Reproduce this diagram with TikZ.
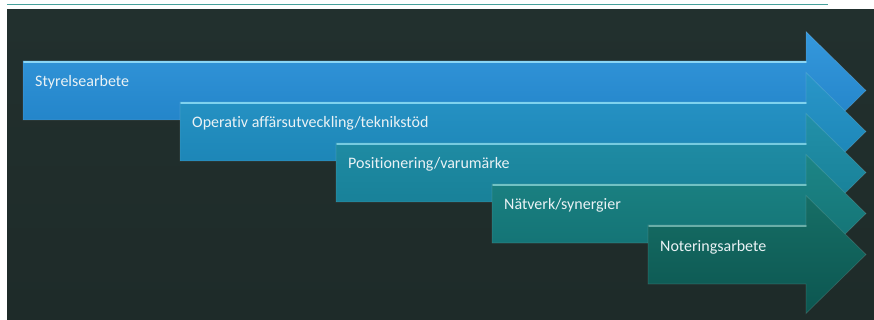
\documentclass[tikz,border=0pt]{standalone}
\usepackage{fontspec}
\setmainfont{Carlito}[Ligatures=NoCommon]
\usetikzlibrary{calc,positioning}
\definecolor{stBack}{HTML}{22302E}
\definecolor{stBackLow}{HTML}{1E2B29}
\definecolor{stRule}{HTML}{45A09B}
\definecolor{stText}{HTML}{EAF2F5}
\definecolor{stOneTop}{HTML}{3598DC}
\definecolor{stOneLow}{HTML}{1E7FC4}
\definecolor{stOneHi}{HTML}{8AD6F5}
\definecolor{stTwoTop}{HTML}{2996C8}
\definecolor{stTwoLow}{HTML}{1981B2}
\definecolor{stTwoHi}{HTML}{7FD2EE}
\definecolor{stThreeTop}{HTML}{2290A8}
\definecolor{stThreeLow}{HTML}{157C94}
\definecolor{stThreeHi}{HTML}{76CBE0}
\definecolor{stFourTop}{HTML}{1D8586}
\definecolor{stFourLow}{HTML}{116F71}
\definecolor{stFourHi}{HTML}{72C2C4}
\definecolor{stFiveTop}{HTML}{166E66}
\definecolor{stFiveLow}{HTML}{0C5650}
\definecolor{stFiveHi}{HTML}{6AAEA8}
\tikzset{
  st canvas/.style={fill=stBack},
  st rule/.style={draw=stRule, line width=1.5pt},
  st arrow/.style={draw=white, draw opacity=.12, line width=.8pt, line join=miter},
  st highlight/.style={line width=1.8pt, line cap=round},
  st label/.style={font=\fontsize{16}{19}\selectfont, text=stText, inner sep=0pt, anchor=base west}
}

\begin{document}
\begin{tikzpicture}[x=1pt,y=-1pt]
  \useasboundingbox (0,0) rectangle (874,320);
  \path[fill=white] (0,0) rectangle (874,320);
  \path[top color=stBack, bottom color=stBackLow] (7,10) rectangle (874,320);
  \draw[st rule] (7,4.5) -- (828,4.5);

  % arrow corners: left end, top of the body
  \coordinate (s1) at (23,61);
  \coordinate (s2) at (180,102);
  \coordinate (s3) at (336,143);
  \coordinate (s4) at (492,184);
  \coordinate (s5) at (648,225);

  % Styrelsearbete
  \path[st arrow, top color=stOneTop, bottom color=stOneLow]
    (s1) -- (806,61) -- (806,31.5) -- (866,90.5) -- (806,149.5) -- (806,120) -- (23,120) -- cycle;
  \draw[st highlight, stOneHi] (24,62) -- (806,62);
  \node[st label] (board) at ($(s1)+(12,26)$) {Styrelsearbete};

  % Operativ
  \path[st arrow, top color=stTwoTop, bottom color=stTwoLow]
    (s2) -- (806,102) -- (806,72.5) -- (866,131.5) -- (806,190.5) -- (806,161) -- (180,161) -- cycle;
  \draw[st highlight, stTwoHi] (181,103) -- (806,103);
  \node[st label] (operative) at ($(s2)+(12,26)$) {Operativ affärsutveckling/teknikstöd};

  % Positionering
  \path[st arrow, top color=stThreeTop, bottom color=stThreeLow]
    (s3) -- (806,143) -- (806,113.5) -- (866,172.5) -- (806,231.5) -- (806,202) -- (336,202) -- cycle;
  \draw[st highlight, stThreeHi] (337,144) -- (806,144);
  \node[st label] (brand) at ($(s3)+(12,26)$) {Positionering/varumärke};

  % Nätverk
  \path[st arrow, top color=stFourTop, bottom color=stFourLow]
    (s4) -- (806,184) -- (806,154.5) -- (866,213.5) -- (806,272.5) -- (806,243) -- (492,243) -- cycle;
  \draw[st highlight, stFourHi] (493,185) -- (806,185);
  \node[st label] (network) at ($(s4)+(12,26)$) {Nätverk/synergier};

  % Noteringsarbete
  \path[st arrow, top color=stFiveTop, bottom color=stFiveLow]
    (s5) -- (806,225) -- (806,195.5) -- (866,254.5) -- (806,313.5) -- (806,284) -- (648,284) -- cycle;
  \draw[st highlight, stFiveHi] (649,226) -- (806,226);
  \node[st label] (listing) at ($(s5)+(12,26)$) {Noteringsarbete};
\end{tikzpicture}
\end{document}
